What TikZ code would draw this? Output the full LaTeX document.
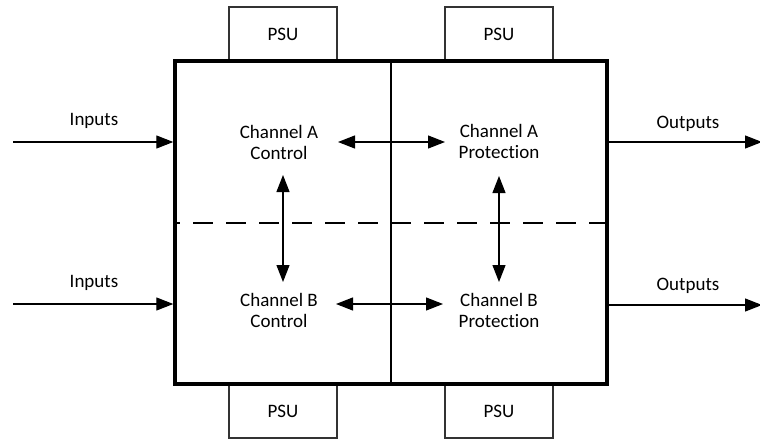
\documentclass[tikz,border=0pt]{standalone}
\usepackage{fontspec}
\setmainfont{Carlito}[Ligatures={NoCommon}]
\usetikzlibrary{arrows.meta}
\begin{document}
\begin{tikzpicture}[x=1pt,y=-1pt,
  lbl/.style={align=center,font=\fontsize{19}{21}\selectfont,inner sep=0pt},
  psubox/.style={draw=black!80,line width=1.1pt,minimum width=108pt,minimum height=54pt,inner sep=0pt,font=\fontsize{19}{21}\selectfont},
  mainbox/.style={draw,line width=3.4pt,minimum width=432pt,minimum height=323pt,inner sep=0pt},
  arr/.style={line width=1.2pt,-{Triangle[length=17pt,width=13pt]}},
  dblarr/.style={line width=1.2pt,{Triangle[length=17pt,width=13pt]}-{Triangle[length=17pt,width=13pt]}},
  thin line/.style={line width=1.2pt}]
\useasboundingbox (0,0) rectangle (760,439);
% PSU boxes
\node[psubox] (psu1) at (283,34) {PSU};
\node[psubox] (psu2) at (499,34) {PSU};
\node[psubox] (psu3) at (283,411) {PSU};
\node[psubox] (psu4) at (499,411) {PSU};
% main box
\node[mainbox,fill=white] (box) at (391,222.5) {};
\draw[thin line] (box.north) -- (box.south);
\coordinate (dl) at (177,223);
\coordinate (dr) at (605,223);
\draw[line width=1.2pt,dash pattern=on 20pt off 13pt,dash phase=17pt] (dl) -- (dr);
% channel labels
\node[lbl] (ca) at (279,142) {Channel A\\Control};
\node[lbl] (pa) at (499,141) {Channel A\\Protection};
\node[lbl] (cb) at (279,310) {Channel B\\Control};
\node[lbl] (pb) at (499,310) {Channel B\\Protection};
% inputs / outputs
\coordinate (in1) at (13,142);
\coordinate (in2) at (13,304);
\coordinate (out1) at (762,142);
\coordinate (out2) at (762,305);
\draw[arr] (in1) -- (in1 -| box.west);
\draw[arr] (in2) -- (in2 -| box.west);
\draw[arr] (out1 -| box.east) -- (out1);
\draw[arr] (out2 -| box.east) -- (out2);
\node[lbl] (li1) at (94,121) {Inputs};
\node[lbl] (li2) at (94,283) {Inputs};
\node[lbl] (lo1) at (688,124) {Outputs};
\node[lbl] (lo2) at (688,286) {Outputs};
% internal arrows
\coordinate (h1a) at (338,142); \coordinate (h1b) at (445,142);
\coordinate (h2a) at (336,304); \coordinate (h2b) at (443,304);
\coordinate (v1a) at (283,175); \coordinate (v1b) at (283,282);
\coordinate (v2a) at (499,176); \coordinate (v2b) at (499,282);
\draw[dblarr] (h1a) -- (h1b);
\draw[dblarr] (h2a) -- (h2b);
\draw[dblarr] (v1a) -- (v1b);
\draw[dblarr] (v2a) -- (v2b);
\end{tikzpicture}
\end{document}
